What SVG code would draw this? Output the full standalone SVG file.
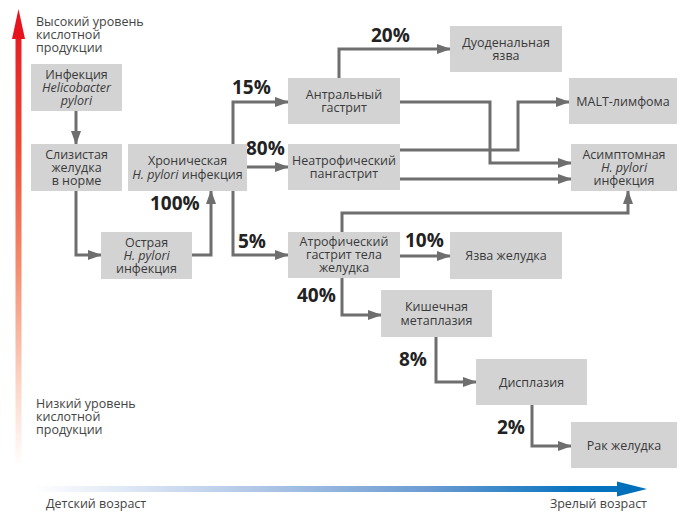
<svg xmlns="http://www.w3.org/2000/svg" width="680" height="512" viewBox="0 0 680 512">
<defs>
<style>
.box{fill:#d3d3d4}
.t{font-family:"Open Sans","Liberation Sans",sans-serif;font-size:12.5px;fill:#3a3a3a;text-anchor:middle}
.i{font-style:italic}
.lab{font-family:"Open Sans","Liberation Sans",sans-serif;font-size:12.5px;fill:#444}
.p{font-family:"Open Sans","Liberation Sans",sans-serif;font-size:19px;font-weight:bold;fill:#222}
.c{fill:none;stroke:#6e6e6e;stroke-width:3}
</style>
<marker id="ah" viewBox="0 0 14 10" refX="13" refY="5" markerWidth="14" markerHeight="10" markerUnits="userSpaceOnUse" orient="auto">
<path d="M0,0 L14,5 L0,10 z" fill="#6e6e6e"/>
</marker>
<linearGradient id="red" x1="0" y1="10" x2="0" y2="466" gradientUnits="userSpaceOnUse">
<stop offset="0" stop-color="#e5141f"/>
<stop offset="0.3" stop-color="#ec4a36"/>
<stop offset="0.55" stop-color="#f4896a"/>
<stop offset="0.82" stop-color="#fcd5c6"/>
<stop offset="1" stop-color="#ffffff"/>
</linearGradient>
<linearGradient id="blue" x1="33" y1="0" x2="647" y2="0" gradientUnits="userSpaceOnUse">
<stop offset="0" stop-color="#ffffff"/>
<stop offset="0.35" stop-color="#b4c9e8"/>
<stop offset="0.65" stop-color="#6a9bd2"/>
<stop offset="0.88" stop-color="#0a74c0"/>
<stop offset="1" stop-color="#0070bb"/>
</linearGradient>
</defs>
<rect width="680" height="512" fill="#ffffff"/>

<g id="axes">
<rect x="15.5" y="37" width="6" height="429" fill="url(#red)"/>
<polygon points="12,39 18.5,9 25,39" fill="#e5141f"/>
<rect x="33" y="486" width="586" height="6" fill="url(#blue)"/>
<polygon points="617,481.5 647,489 617,496.5" fill="#0070bb"/>
<text class="lab" x="36" y="26">Высокий уровень</text>
<text class="lab" x="36" y="39">кислотной</text>
<text class="lab" x="36" y="52">продукции</text>
<text class="lab" x="36" y="408">Низкий уровень</text>
<text class="lab" x="36" y="421">кислотной</text>
<text class="lab" x="36" y="434">продукции</text>
<text class="lab" x="46" y="508">Детский возраст</text>
<text class="lab" x="647" y="508" text-anchor="end">Зрелый возраст</text>
</g>

<g id="connectors">
<path class="c" marker-end="url(#ah)" d="M76,111 V144"/>
<path class="c" marker-end="url(#ah)" d="M76,191 V255 H101"/>
<path class="c" marker-end="url(#ah)" d="M192,255 H211 V191"/>
<path class="c" marker-end="url(#ah)" d="M233,144 V102 H288"/>
<path class="c" marker-end="url(#ah)" d="M247,167 H288"/>
<path class="c" marker-end="url(#ah)" d="M233,191 V255 H288"/>
<path class="c" marker-end="url(#ah)" d="M339,78 V49 H450"/>
<path class="c" marker-end="url(#ah)" d="M400,102 H490 V163 H571"/>
<path class="c" marker-end="url(#ah)" d="M400,150 H518 V102 H569"/>
<path class="c" marker-end="url(#ah)" d="M400,179 H571"/>
<path class="c" marker-end="url(#ah)" d="M342,232 V213 H628 V191"/>
<path class="c" marker-end="url(#ah)" d="M400,256 H450"/>
<path class="c" marker-end="url(#ah)" d="M342,278 V315 H381"/>
<path class="c" marker-end="url(#ah)" d="M436,337 V382 H476"/>
<path class="c" marker-end="url(#ah)" d="M532,405 V446 H571"/>
</g>

<g id="percentages">
<text class="p" x="232" y="94">15%</text>
<text class="p" x="246" y="155">80%</text>
<text class="p" x="150" y="210">100%</text>
<text class="p" x="238" y="248">5%</text>
<text class="p" x="371" y="42">20%</text>
<text class="p" x="405" y="247">10%</text>
<text class="p" x="297" y="302">40%</text>
<text class="p" x="399" y="366">8%</text>
<text class="p" x="497" y="434">2%</text>
</g>

<g id="n-infection">
<rect class="box" x="31" y="64" width="91" height="47"/>
<text class="t" x="76.5" y="79">Инфекция</text>
<text class="t i" x="76.5" y="92">Helicobacter</text>
<text class="t i" x="76.5" y="105">pylori</text>
</g>

<g id="n-normal">
<rect class="box" x="31" y="144" width="91" height="47"/>
<text class="t" x="76.5" y="158.5">Слизистая</text>
<text class="t" x="76.5" y="171.5">желудка</text>
<text class="t" x="76.5" y="184.5">в норме</text>
</g>

<g id="n-chronic">
<rect class="box" x="128" y="144" width="119" height="47"/>
<text class="t" x="187.5" y="165">Хроническая</text>
<text class="t" x="187.5" y="179"><tspan class="i">H. pylori</tspan> инфекция</text>
</g>

<g id="n-acute">
<rect class="box" x="101" y="232" width="91" height="47"/>
<text class="t" x="146.5" y="246.5">Острая</text>
<text class="t i" x="146.5" y="259.5">H. pylori</text>
<text class="t" x="146.5" y="272.5">инфекция</text>
</g>

<g id="n-antral">
<rect class="box" x="288" y="78" width="112" height="46"/>
<text class="t" x="344" y="98.5">Антральный</text>
<text class="t" x="344" y="112">гастрит</text>
</g>

<g id="n-pangastritis">
<rect class="box" x="288" y="144" width="112" height="46"/>
<text class="t" x="344" y="164.5">Неатрофический</text>
<text class="t" x="344" y="178">пангастрит</text>
</g>

<g id="n-atrophic">
<rect class="box" x="288" y="232" width="112" height="46"/>
<text class="t" x="344" y="246">Атрофический</text>
<text class="t" x="344" y="259">гастрит тела</text>
<text class="t" x="344" y="272">желудка</text>
</g>

<g id="n-duodenal">
<rect class="box" x="450" y="26" width="112" height="46"/>
<text class="t" x="506" y="46.5">Дуоденальная</text>
<text class="t" x="506" y="60">язва</text>
</g>

<g id="n-malt">
<rect class="box" x="569" y="78" width="108" height="46"/>
<text class="t" x="623" y="105.5">MALT-лимфома</text>
</g>

<g id="n-asymptomatic">
<rect class="box" x="571" y="144" width="106" height="47"/>
<text class="t" x="624" y="158.5">Асимптомная</text>
<text class="t i" x="624" y="171.5">H. pylori</text>
<text class="t" x="624" y="184.5">инфекция</text>
</g>

<g id="n-gastric-ulcer">
<rect class="box" x="450" y="232" width="112" height="47"/>
<text class="t" x="506" y="260">Язва желудка</text>
</g>

<g id="n-metaplasia">
<rect class="box" x="381" y="290" width="111" height="47"/>
<text class="t" x="436.5" y="311">Кишечная</text>
<text class="t" x="436.5" y="324.5">метаплазия</text>
</g>

<g id="n-dysplasia">
<rect class="box" x="476" y="359" width="111" height="46"/>
<text class="t" x="531.5" y="386.5">Дисплазия</text>
</g>

<g id="n-cancer">
<rect class="box" x="571" y="422" width="106" height="46"/>
<text class="t" x="624" y="449.5">Рак желудка</text>
</g>
</svg>
